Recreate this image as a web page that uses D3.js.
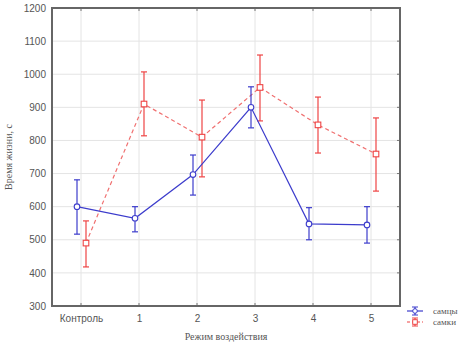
<!DOCTYPE html>
<html>
<head>
<meta charset="utf-8">
<script src="https://cdn.jsdelivr.net/npm/d3@7"></script>
<style>
  body { margin: 0; background: #fff; }
  svg { display: block; }
</style>
</head>
<body>
<div id="chart"></div>
<script>
// данные
var categories = ["Контроль", "1", "2", "3", "4", "5"];
var maleMean = [600, 565, 697, 900, 548, 545];
var maleLow  = [517, 524, 635, 838, 500, 490];
var maleHigh = [681, 600, 756, 962, 597, 600];
var femaleMean = [490, 910, 810, 960, 847, 759];
var femaleLow  = [418, 814, 690, 859, 762, 647];
var femaleHigh = [557, 1007, 922, 1058, 931, 868];
var yTicks = [300, 400, 500, 600, 700, 800, 900, 1000, 1100, 1200];
var seriesNames = ["самцы", "самки"];

var width = 474, height = 345;
var margin = {top: 8, right: 74, bottom: 39, left: 52};
var plotW = width - margin.left - margin.right,
    plotH = height - margin.top - margin.bottom;

var svg = d3.select("#chart").append("svg")
    .attr("width", width)
    .attr("height", height);

var g = svg.append("g").attr("transform", "translate(" + margin.left + "," + margin.top + ")");

var x = d3.scalePoint().domain(categories).range([0, plotW]).padding(0.5);
var y = d3.scaleLinear().domain([300, 1200]).range([plotH, 0]);

// сетка
g.append("g").selectAll("line").data(yTicks.slice(1, -1)).enter().append("line")
    .attr("x1", 0).attr("x2", plotW)
    .attr("y1", function(d) { return y(d); }).attr("y2", function(d) { return y(d); })
    .style("stroke", "#e4e4e4").style("stroke-width", 1);
g.append("g").selectAll("line").data(categories).enter().append("line")
    .attr("x1", function(d) { return x(d); }).attr("x2", function(d) { return x(d); })
    .attr("y1", 0).attr("y2", plotH)
    .style("stroke", "#e4e4e4").style("stroke-width", 1);

// оси
var axisFont = "Arial, 'Liberation Sans', sans-serif";
var yAxis = g.append("g").call(d3.axisLeft(y).tickValues(yTicks).tickFormat(d3.format("d")).tickSize(0).tickPadding(6));
var xAxis = g.append("g").attr("transform", "translate(0," + plotH + ")")
    .call(d3.axisBottom(x).tickSize(0).tickPadding(9));
[yAxis, xAxis].forEach(function(a) {
  a.select(".domain").remove();
  a.selectAll("text").style("font-family", axisFont).style("font-size", "10px").style("fill", "#555");
});

// внутренние засечки
g.append("g").selectAll("line").data(categories).enter().append("line")
    .attr("x1", function(d) { return x(d); }).attr("x2", function(d) { return x(d); })
    .attr("y1", 0).attr("y2", 3).style("stroke", "#777");
g.append("g").selectAll("line").data(categories).enter().append("line")
    .attr("x1", function(d) { return x(d); }).attr("x2", function(d) { return x(d); })
    .attr("y1", plotH).attr("y2", plotH - 3).style("stroke", "#777");
g.append("g").selectAll("line").data(yTicks).enter().append("line")
    .attr("x1", plotW).attr("x2", plotW - 3)
    .attr("y1", function(d) { return y(d); }).attr("y2", function(d) { return y(d); })
    .style("stroke", "#777");

g.append("rect").attr("width", plotW).attr("height", plotH)
    .style("fill", "none").style("stroke", "#666").style("stroke-width", 2);

function drawSeries(mean, low, high, dx, color, lineColor, dash, marker) {
  var pts = categories.map(function(c, i) {
    return {x: x(c) + dx, m: mean[i], lo: low[i], hi: high[i]};
  });
  var line = d3.line().x(function(d) { return d.x; }).y(function(d) { return y(d.m); });
  g.append("path").datum(pts).attr("d", line)
      .style("fill", "none").style("stroke", lineColor).style("stroke-width", 1.2)
      .style("stroke-dasharray", dash);
  var eb = g.append("g").selectAll("g").data(pts).enter().append("g");
  eb.append("line").attr("x1", function(d) { return d.x; }).attr("x2", function(d) { return d.x; })
      .attr("y1", function(d) { return y(d.lo); }).attr("y2", function(d) { return y(d.hi); })
      .style("stroke", color).style("stroke-width", 1.2);
  ["lo", "hi"].forEach(function(k) {
    eb.append("line").attr("x1", function(d) { return d.x - 3; }).attr("x2", function(d) { return d.x + 3; })
        .attr("y1", function(d) { return y(d[k]); }).attr("y2", function(d) { return y(d[k]); })
        .style("stroke", color).style("stroke-width", 1.2);
  });
  if (marker === "circle") {
    eb.append("circle").attr("cx", function(d) { return d.x; }).attr("cy", function(d) { return y(d.m); })
        .attr("r", 2.8).style("fill", "#fff").style("stroke", color).style("stroke-width", 1.1);
  } else {
    eb.append("rect").attr("x", function(d) { return d.x - 2.8; }).attr("y", function(d) { return y(d.m) - 2.8; })
        .attr("width", 5.6).attr("height", 5.6).style("fill", "#fff").style("stroke", color).style("stroke-width", 1.1);
  }
}

drawSeries(femaleMean, femaleLow, femaleHigh, 5, "#ee4444", "#f07070", "4,3", "square");
drawSeries(maleMean, maleLow, maleHigh, -4, "#3c3ccc", "#3c3ccc", null, "circle");

// подписи осей
var titleFont = "'Times New Roman', 'Liberation Serif', serif";
svg.append("text").attr("x", margin.left + plotW / 2).attr("y", 340)
    .attr("text-anchor", "middle").style("font-family", titleFont).style("font-size", "10px").style("fill", "#555")
    .text("Режим воздействия");
svg.append("text").attr("transform", "translate(12," + (margin.top + plotH / 2) + ") rotate(-90)")
    .attr("text-anchor", "middle").style("font-family", titleFont).style("font-size", "10px").style("fill", "#555")
    .text("Время жизни, с");

// легенда
var legend = svg.append("g").attr("transform", "translate(407,311)");
var legColors = ["#3c3ccc", "#ee4444"];
seriesNames.forEach(function(name, i) {
  var row = legend.append("g").attr("transform", "translate(0," + (i * 11) + ")");
  row.append("line").attr("x1", 0).attr("x2", 16).attr("y1", 0).attr("y2", 0)
      .style("stroke", legColors[i]).style("stroke-width", 1.2).style("stroke-dasharray", i ? "3,2" : null);
  row.append("line").attr("x1", 8).attr("x2", 8).attr("y1", -4).attr("y2", 4)
      .style("stroke", legColors[i]).style("stroke-width", 1.2);
  row.append("line").attr("x1", 5).attr("x2", 11).attr("y1", -4).attr("y2", -4).style("stroke", legColors[i]);
  row.append("line").attr("x1", 5).attr("x2", 11).attr("y1", 4).attr("y2", 4).style("stroke", legColors[i]);
  if (i === 0) {
    row.append("circle").attr("cx", 8).attr("cy", 0).attr("r", 2.3).style("fill", "#fff").style("stroke", legColors[i]);
  } else {
    row.append("rect").attr("x", 5.7).attr("y", -2.3).attr("width", 4.6).attr("height", 4.6)
        .style("fill", "#fff").style("stroke", legColors[i]);
  }
  row.append("text").attr("x", 26).attr("y", 3).style("font-family", titleFont).style("font-size", "9px")
      .style("fill", "#555").text(name);
});
</script>
</body>
</html>
